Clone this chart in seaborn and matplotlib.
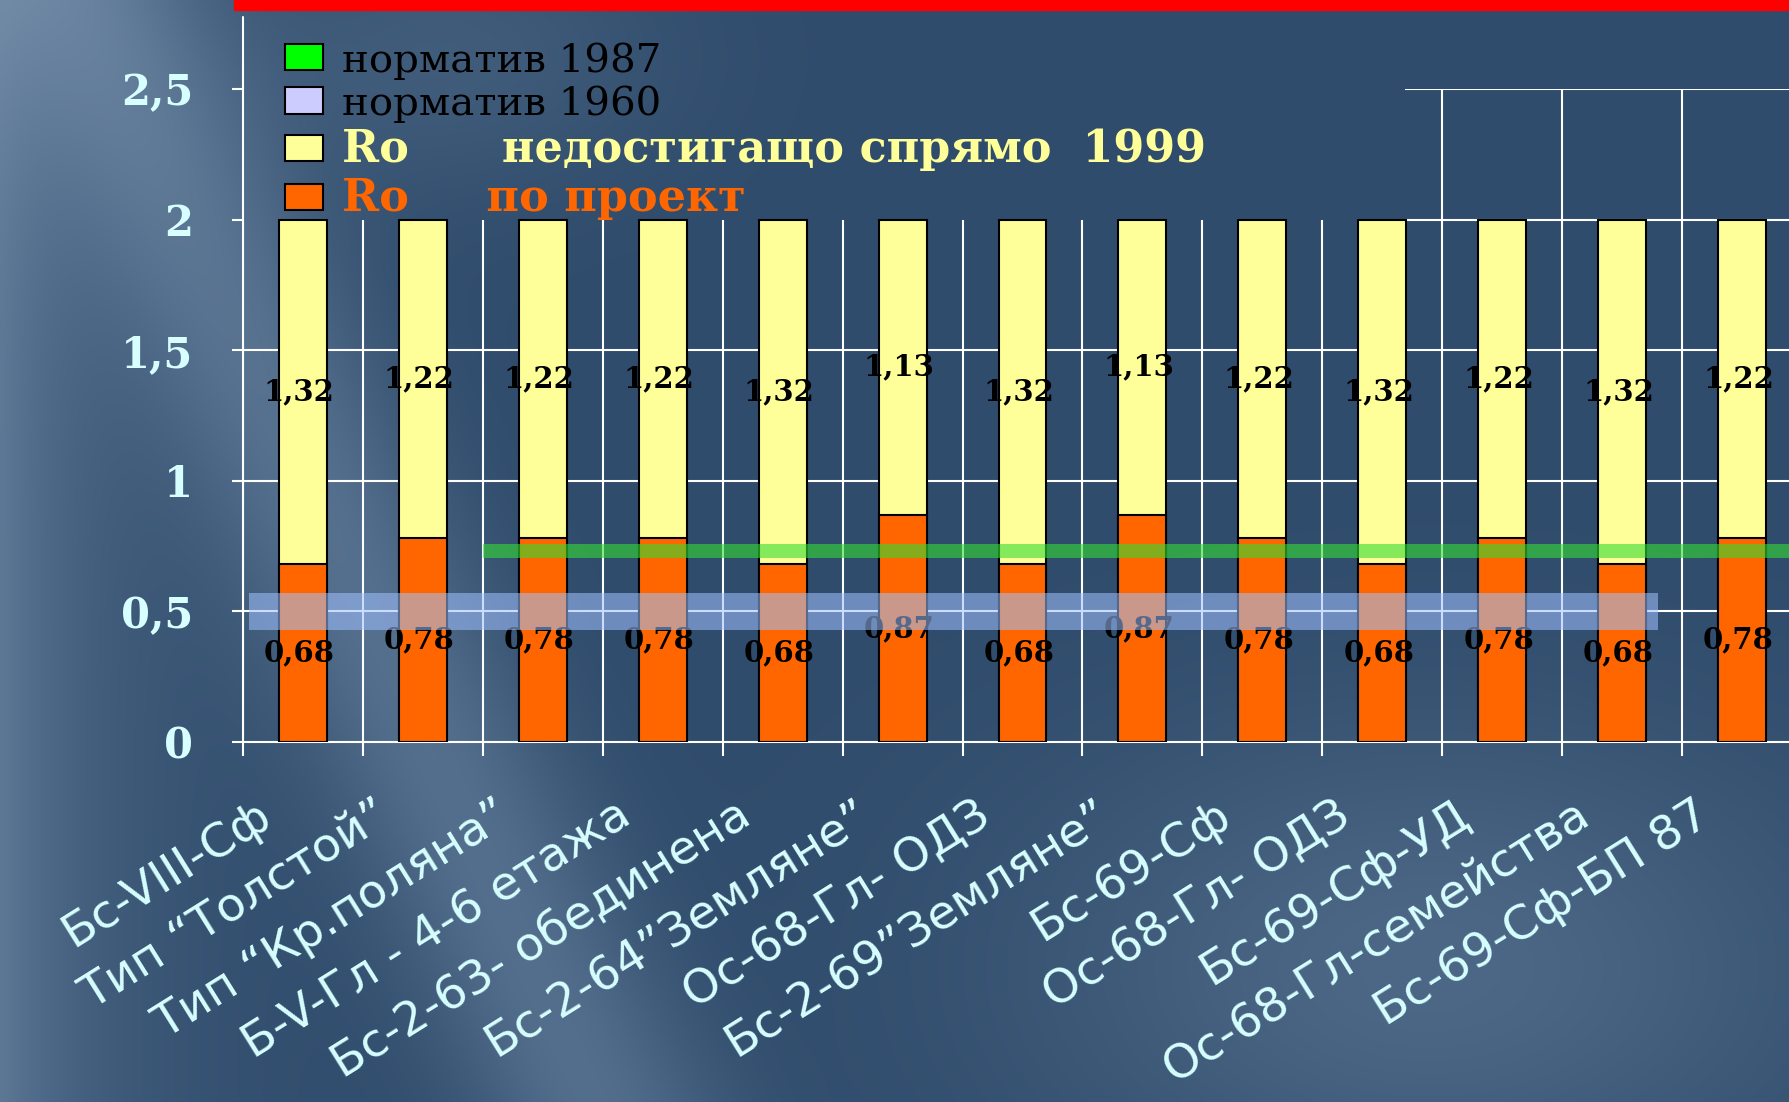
import numpy as np
import pandas as pd
import matplotlib
matplotlib.use("Agg")
import matplotlib.pyplot as plt
from matplotlib.patches import Patch, Rectangle
import seaborn as sns

# ---------------- data ----------------
categories = ["Бс-VIII-Сф", "Тип “Толстой”", "Тип “Кр.поляна”", "Б-V-Гл - 4-6 етажа",
              "Бс-2-63- обединена", "Бс-2-64”Земляне”", "Ос-68-Гл- ОДЗ", "Бс-2-69”Земляне”",
              "Бс-69-Сф", "Ос-68-Гл- ОДЗ", "Бс-69-Сф-УД", "Ос-68-Гл-семейства", "Бс-69-Сф-БП 87"]
ro_project = [0.68, 0.78, 0.78, 0.78, 0.68, 0.87, 0.68, 0.87, 0.78, 0.68, 0.78, 0.68, 0.78]
ro_shortfall = [1.32, 1.22, 1.22, 1.22, 1.32, 1.13, 1.32, 1.13, 1.22, 1.32, 1.22, 1.32, 1.22]
norm_1987 = 0.73
norm_1960 = 0.50
y_ticks = [0, 0.5, 1, 1.5, 2, 2.5]
y_tick_labels = ["0", "0,5", "1", "1,5", "2", "2,5"]
legend_labels = ["норматив 1987", "норматив 1960",
                 "Ro      недостигащо спрямо  1999", "Ro     по проект"]

# ---------------- style ----------------
C_PROJ = "#FF6600"
C_SHORT = "#FFFF99"
C_GREEN = "#33DD33"
C_BLUE = "#A0C0FF"
C_TICK = "#D8FFFF"

sns.set_style("ticks")
plt.rcParams["font.family"] = ["DejaVu Sans"]

W, H = 1790, 1102
fig = plt.figure(figsize=(W / 100, H / 100), dpi=100)

# background gradient (decoration)
ny, nx = 220, 360
yy, xx = np.mgrid[0:1:ny * 1j, 0:1:nx * 1j]
w = (0.55 * np.exp(-((xx - (0.33 - 0.28 * (1 - yy))) / 0.07) ** 2)
     + 0.7 * np.exp(-xx / 0.06)
     + 0.45 * np.exp(-(((xx - 0.80) / 0.22) ** 2 + ((yy - 0.88) / 0.22) ** 2))
     + 0.25 * np.exp(-(((xx - 0.25) / 0.12) ** 2 + ((yy - 0.05) / 0.12) ** 2)))
w = np.clip(w, 0, 1)[..., None]
base = np.array([48, 76, 108]) / 255
light = np.array([112, 138, 166]) / 255
img = base * (1 - w) + light * w
bg = fig.add_axes([0, 0, 1, 1], zorder=-10)
bg.imshow(img, aspect="auto", extent=(0, 1, 0, 1), interpolation="bilinear")
bg.axis("off")

# red header strip
fig.add_artist(Rectangle((234 / W, 1 - 10 / H), 1, 10 / H, transform=fig.transFigure,
                         color="#FF0000", zorder=20))

ax_left = 243 / W
ax_bottom = (H - 742) / H
ax_h = (742 - 89) / H
ax_w = 1559 / W
ax = fig.add_axes([ax_left, ax_bottom, ax_w, ax_h])
ax.set_facecolor("none")

df = pd.DataFrame({"idx": list(range(len(categories))), "project": ro_project,
                   "shortfall": ro_shortfall})
df["total"] = df["project"] + df["shortfall"]

sns.barplot(data=df, x="idx", y="total", color=C_SHORT, saturation=1, width=0.4,
            edgecolor="black", linewidth=1.5, errorbar=None, ax=ax, zorder=3)
sns.barplot(data=df, x="idx", y="project", color=C_PROJ, saturation=1, width=0.4,
            edgecolor="black", linewidth=1.5, errorbar=None, ax=ax, zorder=3)

n = len(categories)
ax.set_xlim(-0.5, n - 0.5)
ax.set_ylim(0, 2.5)

# gridlines (partly hidden behind the legend area, as in the reference)
cover_x = 9.19
ax.hlines([0.5, 1.0, 1.5], -0.5, n - 0.5, color="white", lw=1.5, zorder=1)
ax.hlines([2.0, 2.5], cover_x, n - 0.5, color="white", lw=1.5, zorder=1)
for xb in np.arange(-0.5, n, 1.0):
    top = 2.0 if xb < cover_x else 2.5
    ax.vlines(xb, 0, top, color="white", lw=1.5, zorder=1)

# normative bands
ax.fill_between([1.5, n - 0.5], norm_1987 - 0.027, norm_1987 + 0.027,
                color=C_GREEN, alpha=0.6, lw=0, zorder=4)
ax.fill_between([-0.45, 11.3], norm_1960 - 0.07, norm_1960 + 0.07,
                color=C_BLUE, alpha=0.55, lw=0, zorder=4)

# value labels
fmt = lambda v: f"{v:.2f}".replace(".", ",")
for i, (p, s) in enumerate(zip(ro_project, ro_shortfall)):
    ax.text(i - 0.03, p / 2, fmt(p), ha="center", va="center", fontsize=21,
            fontweight="bold", family="DejaVu Serif", color="black", zorder=3.5)
    ax.text(i - 0.03, p + s / 2, fmt(s), ha="center", va="center", fontsize=21,
            fontweight="bold", family="DejaVu Serif", color="black", zorder=3.5)

# axes styling
for side in ["top", "right"]:
    ax.spines[side].set_visible(False)
for side in ["left", "bottom"]:
    ax.spines[side].set_color("white")
    ax.spines[side].set_linewidth(1.5)
ax.plot([0, 0], [1, 1.11], transform=ax.transAxes, color="white", lw=1.5, clip_on=False)

ax.set_yticks(y_ticks)
ax.set_yticklabels(y_tick_labels, fontsize=30, fontweight="bold", family="DejaVu Serif",
                   color=C_TICK)
ax.tick_params(axis="y", length=8, width=1.5, color="white", pad=28)

# category labels: anchored slightly left of each bar centre
ax.set_xticks(np.arange(n) - 0.3)
ax.set_xticklabels(categories, rotation=32, ha="right", va="center",
                   rotation_mode="anchor", fontsize=34, color=C_TICK, family="DejaVu Sans")
ax.tick_params(axis="x", which="major", length=0, pad=50)
ax.set_xticks(np.arange(-0.5, n, 1.0), minor=True)
ax.tick_params(axis="x", which="minor", length=10, width=1.5, color="white", direction="out")
ax.set_xlabel("")
ax.set_ylabel("")

# legend
handles = [Patch(facecolor="#00FF00", edgecolor="black", lw=1.5),
           Patch(facecolor="#CCCCFF", edgecolor="black", lw=1.5),
           Patch(facecolor=C_SHORT, edgecolor="black", lw=1.5),
           Patch(facecolor=C_PROJ, edgecolor="black", lw=1.5)]
leg = fig.legend(handles, legend_labels, loc="upper left",
                 bbox_to_anchor=(285 / W, 1 - 42 / H), frameon=False,
                 prop={"family": "DejaVu Serif", "size": 29},
                 handlelength=0.94, handleheight=0.62, handletextpad=0.47,
                 labelspacing=0.14, borderpad=0, borderaxespad=0)
for t, c, wt, fs in zip(leg.get_texts(), ["black", "black", C_SHORT, C_PROJ],
                        ["normal", "normal", "bold", "bold"], [29, 29, 32, 32]):
    t.set_color(c)
    t.set_fontweight(wt)
    t.set_fontsize(fs)

fig.savefig("out.png", dpi=100)
